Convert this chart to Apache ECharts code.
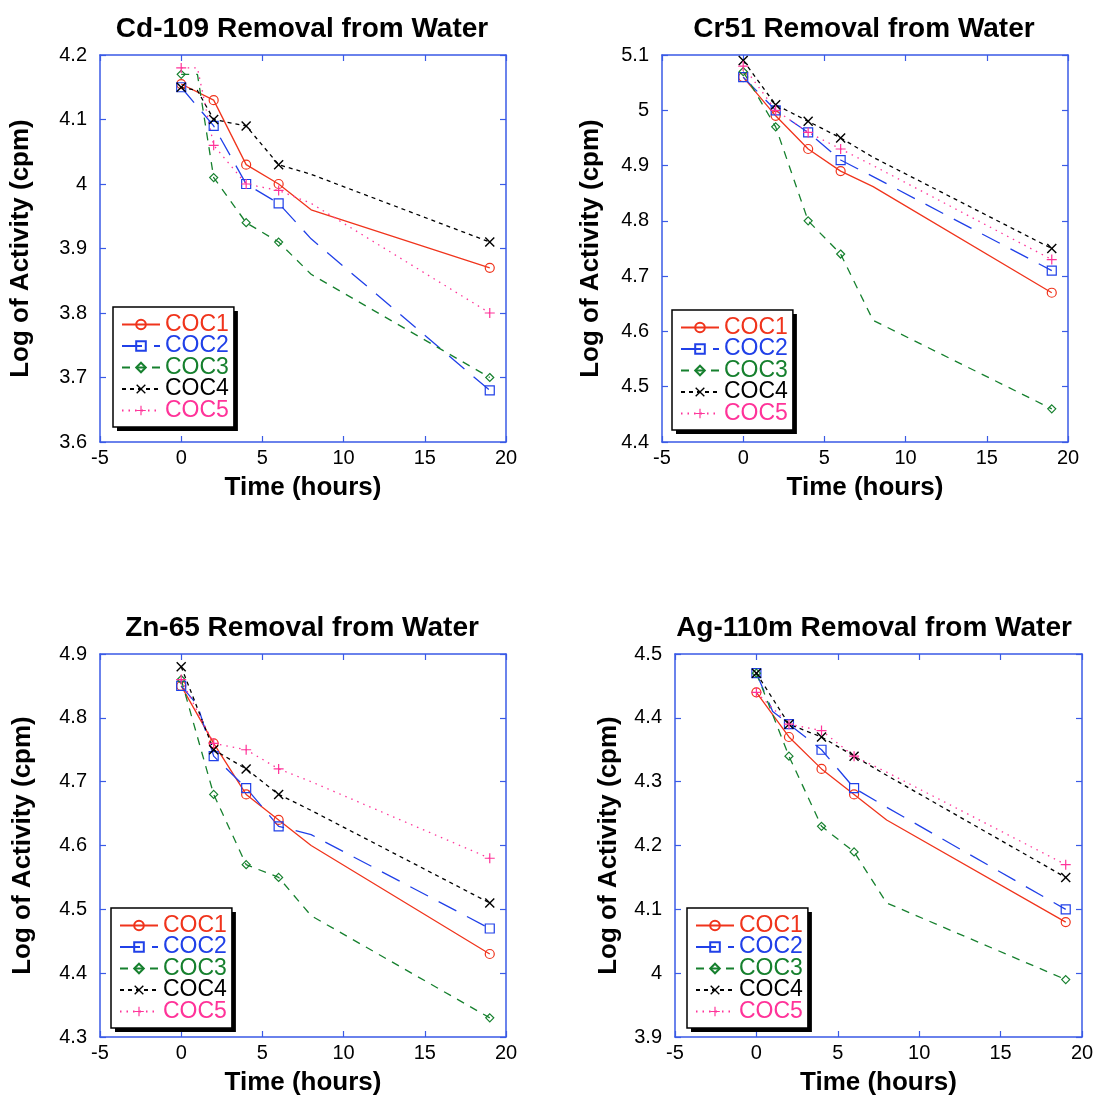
<!DOCTYPE html>
<html><head><meta charset="utf-8">
<script src="https://cdn.jsdelivr.net/npm/echarts@6/dist/echarts.min.js"></script>
<style>html,body{margin:0;padding:0;background:#fff}#c{width:1097px;height:1097px}</style>
</head><body><div id="c"></div>
<script>
// ---------- DATA ----------
const seriesNames = ['COC1', 'COC2', 'COC3', 'COC4', 'COC5'];
const measuredTimes = [0, 2, 4, 6, 19];   // points that carry a marker
const xTicks = [-5, 0, 5, 10, 15, 20];
const xLabel = 'Time (hours)';
const yLabel = 'Log of Activity (cpm)';

const cdTitle = 'Cd-109 Removal from Water';
const cdYRange = [3.6, 4.2];
const cdCOC1 = [[0, 4.155], [2, 4.13], [4, 4.03], [6, 4.00], [8, 3.96], [19, 3.87]];
const cdCOC2 = [[0, 4.15], [2, 4.09], [4, 4.00], [6, 3.97], [8, 3.915], [19, 3.68]];
const cdCOC3 = [[0, 4.17], [1, 4.17], [2, 4.01], [4, 3.94], [6, 3.91], [8, 3.86], [19, 3.70]];
const cdCOC4 = [[0, 4.15], [1, 4.145], [2, 4.10], [4, 4.09], [6, 4.03], [8, 4.015], [19, 3.91]];
const cdCOC5 = [[0, 4.18], [1, 4.18], [2, 4.06], [4, 4.00], [6, 3.99], [8, 3.97], [19, 3.80]];

const crTitle = 'Cr51 Removal from Water';
const crYRange = [4.4, 5.1];
const crCOC1 = [[0, 5.06], [2, 4.99], [4, 4.93], [6, 4.89], [8, 4.862], [19, 4.67]];
const crCOC2 = [[0, 5.06], [2, 5.00], [4, 4.96], [6, 4.91], [8, 4.88], [19, 4.71]];
const crCOC3 = [[0, 5.07], [2, 4.97], [4, 4.80], [6, 4.74], [8, 4.62], [19, 4.46]];
const crCOC4 = [[0, 5.09], [2, 5.01], [4, 4.98], [6, 4.95], [8, 4.915], [19, 4.75]];
const crCOC5 = [[0, 5.08], [2, 5.00], [4, 4.96], [6, 4.93], [8, 4.90], [19, 4.73]];

const znTitle = 'Zn-65 Removal from Water';
const znYRange = [4.3, 4.9];
const znCOC1 = [[0, 4.85], [2, 4.76], [4, 4.68], [6, 4.64], [8, 4.60], [19, 4.43]];
const znCOC2 = [[0, 4.85], [1, 4.82], [2, 4.74], [4, 4.69], [6, 4.63], [8, 4.617], [19, 4.47]];
const znCOC3 = [[0, 4.86], [2, 4.68], [4, 4.57], [6, 4.55], [8, 4.49], [19, 4.33]];
const znCOC4 = [[0, 4.88], [2, 4.75], [4, 4.72], [6, 4.68], [8, 4.655], [19, 4.51]];
const znCOC5 = [[0, 4.86], [2, 4.76], [4, 4.75], [6, 4.72], [8, 4.70], [19, 4.58]];

const agTitle = 'Ag-110m Removal from Water';
const agYRange = [3.9, 4.5];
const agCOC1 = [[0, 4.44], [2, 4.37], [4, 4.32], [6, 4.28], [8, 4.24], [19, 4.08]];
const agCOC2 = [[0, 4.47], [1, 4.41], [2, 4.39], [4, 4.35], [6, 4.29], [8, 4.26], [19, 4.10]];
const agCOC3 = [[0, 4.47], [2, 4.34], [4, 4.23], [6, 4.19], [8, 4.11], [19, 3.99]];
const agCOC4 = [[0, 4.47], [2, 4.39], [4, 4.37], [6, 4.34], [8, 4.31], [19, 4.15]];
const agCOC5 = [[0, 4.44], [2, 4.39], [4, 4.38], [6, 4.34], [8, 4.315], [19, 4.17]];

// ---------- STYLE / LAYOUT ----------
const FONT = '"Liberation Sans", Arial, Helvetica, sans-serif';
const FRAME = '#3a5ae6';
const COLORS = ['#f0341c', '#2040e8', '#16802e', '#000000', '#ff3399'];
const DASHES = ['solid', [20, 12], [8, 7], [4, 4], [1.5, 5]];
const X_PATH = 'path://M0,1L1,0L5,4L9,0L10,1L6,5L10,9L9,10L5,6L1,10L0,9L4,5Z';
const PLUS_PATH = 'path://M4.4,0H5.6V4.4H10V5.6H5.6V10H4.4V5.6H0V4.4H4.4Z';
const SYMBOLS = ['circle', 'rect', 'diamond', X_PATH, PLUS_PATH];
const SYMSIZE = [9, 9, 8, 10, 10];
const HOLLOW = [true, true, true, false, false];

const panels = [
  { title: cdTitle, yr: cdYRange, data: [cdCOC1, cdCOC2, cdCOC3, cdCOC4, cdCOC5],
    grid: { left: 100, top: 55, width: 406, height: 387 }, tx: 302, ty: 15, legend: [113, 307], yGap: 66 },
  { title: crTitle, yr: crYRange, data: [crCOC1, crCOC2, crCOC3, crCOC4, crCOC5],
    grid: { left: 662, top: 55, width: 406, height: 387 }, tx: 864, ty: 15, legend: [672, 310], yGap: 58 },
  { title: znTitle, yr: znYRange, data: [znCOC1, znCOC2, znCOC3, znCOC4, znCOC5],
    grid: { left: 100, top: 654, width: 406, height: 386 }, tx: 302, ty: 614, legend: [111, 908], yGap: 64 },
  { title: agTitle, yr: agYRange, data: [agCOC1, agCOC2, agCOC3, agCOC4, agCOC5],
    grid: { left: 675, top: 654, width: 407, height: 386 }, tx: 874, ty: 614, legend: [687, 908], yGap: 53 }
];

const option = {
  animation: false,
  backgroundColor: '#fff',
  title: [], grid: [], xAxis: [], yAxis: [], legend: [], series: []
};

const axisLine = { show: true, onZero: false, lineStyle: { color: FRAME, width: 1.5 } };
const axisTick = { show: true, inside: true, length: 6, lineStyle: { color: FRAME, width: 1.2 } };
const CLEAR = 'rgba(0,0,0,0)';

panels.forEach((p, i) => {
  option.title.push({
    text: p.title, left: p.tx, top: p.ty, textAlign: 'center', padding: 0,
    textStyle: { fontFamily: FONT, fontSize: 28, fontWeight: 'bold', color: '#000' }
  });
  option.grid.push(Object.assign({ show: false }, p.grid));
  const xMin = xTicks[0], xMax = xTicks[xTicks.length - 1], xInt = xTicks[1] - xTicks[0];
  option.xAxis.push({
    type: 'value', gridIndex: i, position: 'bottom', min: xMin, max: xMax, interval: xInt,
    axisLine, axisTick, splitLine: { show: false },
    axisLabel: { color: '#000', fontFamily: FONT, fontSize: 20, margin: 6 },
    name: xLabel, nameLocation: 'middle', nameGap: 33,
    nameTextStyle: { fontFamily: FONT, fontSize: 26, fontWeight: 'bold', color: '#000' }
  });
  option.xAxis.push({
    type: 'value', gridIndex: i, position: 'top', min: xMin, max: xMax, interval: xInt,
    axisLine, axisTick, splitLine: { show: false }, axisLabel: { show: false }
  });
  option.yAxis.push({
    type: 'value', gridIndex: i, position: 'left', min: p.yr[0], max: p.yr[1], interval: 0.1,
    axisLine, axisTick, splitLine: { show: false },
    axisLabel: { color: '#000', fontFamily: FONT, fontSize: 20, margin: 13 },
    name: yLabel, nameLocation: 'middle', nameGap: p.yGap, nameRotate: 90,
    nameTextStyle: { fontFamily: FONT, fontSize: 26, fontWeight: 'bold', color: '#000' }
  });
  option.yAxis.push({
    type: 'value', gridIndex: i, position: 'right', min: p.yr[0], max: p.yr[1], interval: 0.1,
    axisLine, axisTick, splitLine: { show: false }, axisLabel: { show: false }
  });
  const legendBase = {
    orient: 'vertical', left: p.legend[0], top: p.legend[1],
    itemWidth: 38, itemHeight: 12, itemGap: -1.5, padding: [6, 5, 5, 8],
    selectedMode: false,
    textStyle: { fontFamily: FONT, fontSize: 23 }
  };
  // back legend: white box with solid black drop shadow, full content
  option.legend.push(Object.assign({}, legendBase, {
    z: 5, backgroundColor: '#fff', borderWidth: 0,
    shadowColor: '#000', shadowBlur: 0, shadowOffsetX: 4, shadowOffsetY: 4,
    data: seriesNames.map((n, k) => ({ name: n, textStyle: { color: COLORS[k] } }))
  }));
  // front legend: identical size, only draws the black border
  option.legend.push(Object.assign({}, legendBase, {
    z: 6, backgroundColor: CLEAR, borderColor: '#000', borderWidth: 1.5,
    data: seriesNames.map(n => ({
      name: n, textStyle: { color: CLEAR },
      itemStyle: { opacity: 0 }, lineStyle: { opacity: 0 }
    }))
  }));
  seriesNames.forEach((n, k) => {
    option.series.push({
      type: 'line', name: n, xAxisIndex: i * 2, yAxisIndex: i * 2,
      symbol: SYMBOLS[k], symbolSize: SYMSIZE[k], showSymbol: true,
      lineStyle: { color: COLORS[k], width: 1.3, type: DASHES[k] },
      itemStyle: HOLLOW[k]
        ? { color: 'rgba(255,255,255,0)', borderColor: COLORS[k], borderWidth: 1.2 }
        : { color: COLORS[k], borderWidth: 0 },
      emphasis: { disabled: true },
      data: p.data[k].map(pt => measuredTimes.includes(pt[0]) ? pt : { value: pt, symbol: 'none' })
    });
  });
});

const chart = echarts.init(document.getElementById('c'), null, { renderer: 'canvas' });
chart.setOption(option);
</script>
</body></html>
